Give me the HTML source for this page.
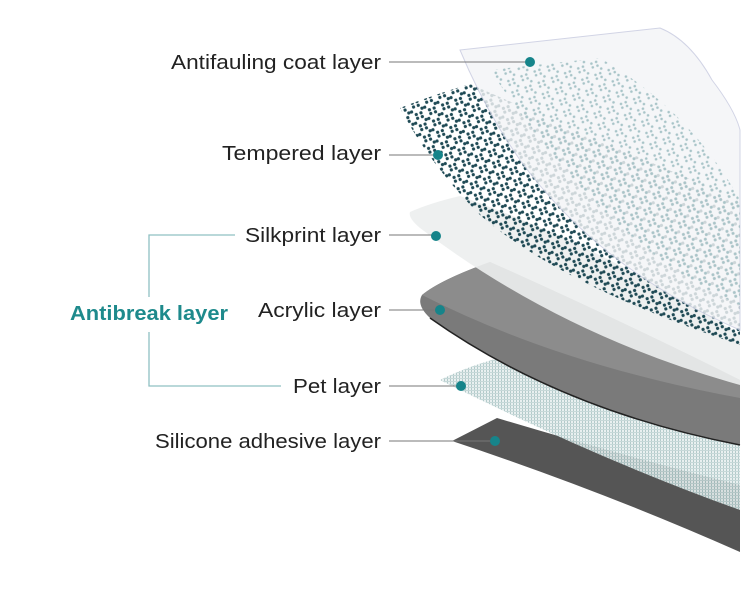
<!DOCTYPE html><html><head><style>body{margin:0;background:#fff}svg{display:block}</style></head><body>
<svg width="743" height="596" viewBox="0 0 743 596" xmlns="http://www.w3.org/2000/svg">
<defs>
<pattern id="hex" width="14" height="12" patternUnits="userSpaceOnUse" patternTransform="rotate(-20)">
<circle cx="2" cy="2" r="1.6" fill="#1f4a55"/><circle cx="7" cy="2" r="1.6" fill="#1f4a55"/><circle cx="9.5" cy="6" r="1.6" fill="#1f4a55"/><circle cx="7" cy="10" r="1.6" fill="#1f4a55"/><circle cx="2" cy="10" r="1.6" fill="#1f4a55"/><circle cx="12.5" cy="6" r="1.6" fill="#1f4a55"/></pattern>
<pattern id="hexl" width="14" height="12" patternUnits="userSpaceOnUse" patternTransform="rotate(-20)">
<circle cx="2" cy="2" r="1.3" fill="#a8c4c8"/><circle cx="7" cy="2" r="1.3" fill="#a8c4c8"/><circle cx="9.5" cy="6" r="1.3" fill="#a8c4c8"/><circle cx="7" cy="10" r="1.3" fill="#a8c4c8"/><circle cx="2" cy="10" r="1.3" fill="#a8c4c8"/></pattern>
<pattern id="mesh" width="3" height="3" patternUnits="userSpaceOnUse"><rect width="3" height="3" fill="#e6eeee"/><rect width="1" height="3" fill="#a9c4c4"/><rect width="3" height="1" fill="#c0d4d4"/></pattern>
</defs>
<!-- silicone -->
<path d="M452,441 L497,418 Q620,455 740,485 L740,552 Q600,490 452,441Z" fill="#555"/>
<!-- pet -->
<path d="M440,380 Q470,365 510,355 Q620,400 740,425 L740,510 Q600,460 440,380Z" fill="url(#mesh)" opacity="0.9"/>
<!-- acrylic -->
<path d="M422,295 Q440,280 490,262 Q620,320 740,380 L740,445 Q560,410 430,318 Q416,305 422,295Z" fill="#7a7a7a"/>
<path d="M422,295 Q440,280 490,262 Q620,320 740,380 L740,398 Q560,365 422,295Z" fill="#8c8c8c"/>
<path d="M430,318 Q560,410 740,445" fill="none" stroke="#222" stroke-width="1.5"/>
<!-- silkprint -->
<path d="M410,212 Q430,203 460,196 Q600,245 740,335 L740,385 Q560,335 420,228 Q408,218 410,212Z" fill="#eceeee" opacity="0.9"/>
<!-- tempered -->
<path d="M400,108 Q430,96 470,84 Q620,150 740,200 L740,345 Q560,285 480,215 Q430,165 400,108Z" fill="url(#hex)"/>
<!-- antifauling -->
<path d="M460,50 L660,28 Q690,40 712,80 Q735,110 740,130 L740,330 Q600,270 520,160 Q485,110 460,50Z" fill="#f4f5f7" opacity="0.82" stroke="#c8cbe0" stroke-width="1"/>
<path d="M490,70 L600,58 Q690,110 740,200 L740,305 Q610,250 490,70Z" fill="url(#hexl)"/>
<g font-family="Liberation Sans, sans-serif" font-size="20" fill="#222" text-anchor="end" lengthAdjust="spacingAndGlyphs">
<text x="381" y="69" textLength="210" lengthAdjust="spacingAndGlyphs">Antifauling coat layer</text>
<text x="381" y="160" textLength="159" lengthAdjust="spacingAndGlyphs">Tempered layer</text>
<text x="381" y="242" textLength="136" lengthAdjust="spacingAndGlyphs">Silkprint layer</text>
<text x="381" y="317" textLength="123" lengthAdjust="spacingAndGlyphs">Acrylic layer</text>
<text x="381" y="393" textLength="88" lengthAdjust="spacingAndGlyphs">Pet layer</text>
<text x="381" y="448" textLength="226" lengthAdjust="spacingAndGlyphs">Silicone adhesive layer</text>
</g>
<g stroke="#777" stroke-width="1">
<line x1="389" y1="62" x2="530" y2="62"/><line x1="389" y1="155" x2="438" y2="155"/><line x1="389" y1="235" x2="436" y2="235"/><line x1="389" y1="310" x2="440" y2="310"/><line x1="389" y1="386" x2="461" y2="386"/><line x1="389" y1="441" x2="495" y2="441"/></g>
<g fill="#16848a"><circle cx="530" cy="62" r="5"/><circle cx="438" cy="155" r="5"/><circle cx="436" cy="236" r="5"/><circle cx="440" cy="310" r="5"/><circle cx="461" cy="386" r="5"/><circle cx="495" cy="441" r="5"/></g>
<path d="M235,235 H149 V297 M149,332 V386 H281" fill="none" stroke="#8fc0c2" stroke-width="1.3"/>
<text x="70" y="320" font-family="Liberation Sans, sans-serif" font-size="20" font-weight="bold" fill="#1e8a8c" textLength="158" lengthAdjust="spacingAndGlyphs">Antibreak layer</text>
</svg></body></html>
